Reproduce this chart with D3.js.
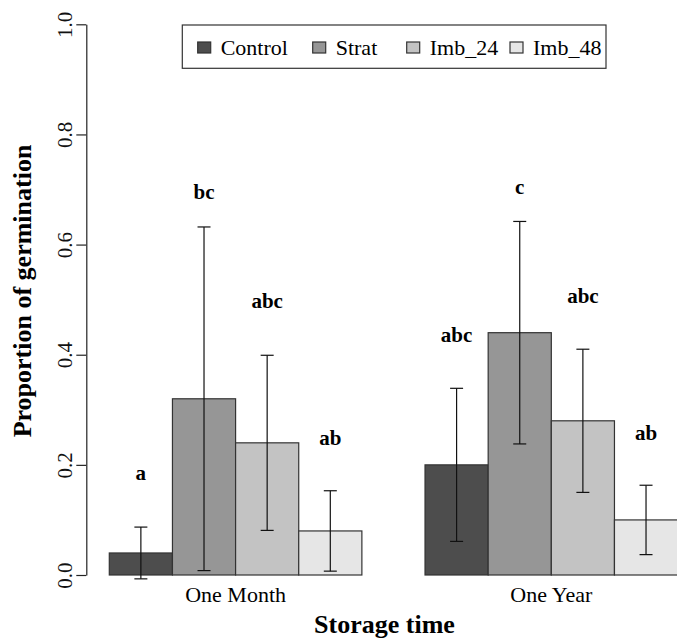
<!DOCTYPE html>
<html lang="en">
<head>
    <meta charset="UTF-8">
    <title>Germination</title>
    <script src="https://cdn.jsdelivr.net/npm/d3@7"></script>
    <style>
        body { margin: 0; background: #fff; }
        text { font-family: "Liberation Serif", "Times New Roman", serif; fill: #000; }
    </style>
</head>
<body>
<svg id="chart" width="677" height="641"></svg>
<script>
    // data
    const groups = ["One Month", "One Year"];
    const treatments = ["Control", "Strat", "Imb_24", "Imb_48"];
    const monthMean = [0.04, 0.32, 0.24, 0.08];
    const yearMean = [0.20, 0.44, 0.28, 0.10];
    const monthErr = [0.047, 0.312, 0.159, 0.073];
    const yearErr = [0.139, 0.202, 0.130, 0.063];
    const monthLetters = ["a", "bc", "abc", "ab"];
    const yearLetters = ["abc", "c", "abc", "ab"];
    const monthLetterY = [0.185, 0.695, 0.497, 0.249];
    const yearLetterY = [0.435, 0.704, 0.506, 0.258];
    const yTicks = [0, 0.2, 0.4, 0.6, 0.8, 1.0];
    const fills = ["#4D4D4D", "#969696", "#C3C3C3", "#E6E6E6"];

    let svg = d3.select('svg#chart');

    // one unit = one bar, groups separated by one empty bar
    let xScale = d3.scaleLinear().domain([0, 9]).range([109.3, 677.6]);
    let yScale = d3.scaleLinear().domain([0, 1]).range([575, 24.3]);
    let bw = xScale(1) - xScale(0);

    let rows = [];
    [[monthMean, monthErr, monthLetters, monthLetterY],
     [yearMean, yearErr, yearLetters, yearLetterY]].forEach(function (g, gi) {
        g[0].forEach(function (v, j) {
            rows.push({pos: gi * 5 + j, value: v, err: g[1][j], letter: g[2][j], ly: g[3][j], k: j});
        });
    });

    // bars
    svg.append('g').selectAll('rect')
        .data(rows)
        .enter()
        .append('rect')
        .attr('x', function (d) { return xScale(d.pos); })
        .attr('y', function (d) { return yScale(d.value); })
        .attr('width', bw)
        .attr('height', function (d) { return yScale(0) - yScale(d.value); })
        .style('fill', function (d) { return fills[d.k]; })
        .style('stroke', '#333')
        .style('stroke-width', 1.2);

    // error bars
    let eb = svg.append('g').style('stroke', '#111').style('stroke-width', 1.2);
    rows.forEach(function (d) {
        let cx = xScale(d.pos + 0.5);
        let lo = yScale(d.value - d.err), hi = yScale(d.value + d.err);
        eb.append('line').attr('x1', cx).attr('x2', cx).attr('y1', lo).attr('y2', hi);
        eb.append('line').attr('x1', cx - 6.5).attr('x2', cx + 6.5).attr('y1', lo).attr('y2', lo);
        eb.append('line').attr('x1', cx - 6.5).attr('x2', cx + 6.5).attr('y1', hi).attr('y2', hi);
    });

    // significance letters
    svg.append('g').selectAll('text')
        .data(rows)
        .enter()
        .append('text')
        .attr('x', function (d) { return xScale(d.pos + 0.5); })
        .attr('y', function (d) { return yScale(d.ly) + 7; })
        .attr('text-anchor', 'middle')
        .style('font-size', '21px')
        .style('font-weight', 'bold')
        .text(function (d) { return d.letter; });

    // y axis
    let yAxis = svg.append('g')
        .attr('transform', 'translate(86.3,0)')
        .call(d3.axisLeft(yScale).tickValues(yTicks).tickSize(10).tickSizeOuter(0)
            .tickFormat(d3.format('.1f')));
    yAxis.select('.domain').style('stroke', '#222').style('stroke-width', 1.2);
    yAxis.selectAll('.tick line').style('stroke', '#222').style('stroke-width', 1.2);
    yAxis.selectAll('.tick text')
        .attr('x', 0).attr('dy', null)
        .attr('transform', 'translate(-14,0) rotate(-90)')
        .attr('text-anchor', 'middle')
        .style('font-family', '"Liberation Serif", serif')
        .style('font-size', '21px')
        .style('fill', '#111');

    // group labels
    svg.append('g').selectAll('text')
        .data(groups)
        .enter()
        .append('text')
        .attr('x', function (d, i) { return xScale(i * 5 + 2); })
        .attr('y', 601.5)
        .attr('text-anchor', 'middle')
        .style('font-size', '22px')
        .text(function (d) { return d; });

    // axis titles
    svg.append('text')
        .attr('x', 384.5).attr('y', 633)
        .attr('text-anchor', 'middle')
        .style('font-size', '26px').style('font-weight', 'bold')
        .text('Storage time');
    svg.append('text')
        .attr('transform', 'translate(31,291) rotate(-90)')
        .attr('text-anchor', 'middle')
        .style('font-size', '26px').style('font-weight', 'bold')
        .text('Proportion of germination');

    // legend
    let legendX = [197.7, 312.7, 406.7, 510];
    let legend = svg.append('g');
    legend.append('rect')
        .attr('x', 182.3).attr('y', 25).attr('width', 423.7).attr('height', 43.3)
        .style('fill', 'none').style('stroke', '#333').style('stroke-width', 1.2);
    let items = legend.selectAll('g.item')
        .data(treatments)
        .enter()
        .append('g')
        .attr('class', 'item')
        .attr('transform', function (d, i) { return 'translate(' + legendX[i] + ',0)'; });
    items.append('rect')
        .attr('x', 0).attr('y', 42).attr('width', 13).attr('height', 11)
        .style('fill', function (d, i) { return fills[i]; })
        .style('stroke', '#333').style('stroke-width', 1.2);
    items.append('text')
        .attr('x', 23).attr('y', 55)
        .style('font-size', '22px')
        .text(function (d) { return d; });
</script>
</body>
</html>
